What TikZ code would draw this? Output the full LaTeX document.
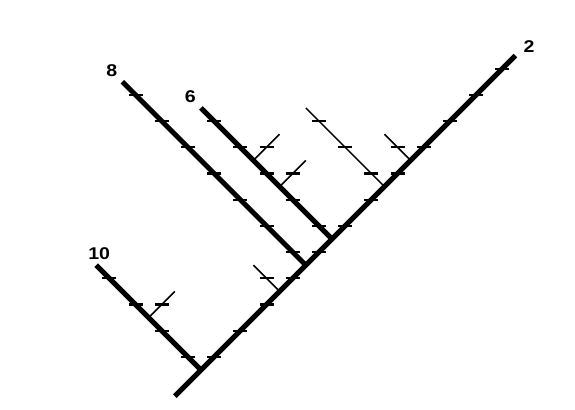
\documentclass[tikz,border=0pt]{standalone}
\usepackage{fontspec}
\setsansfont{Liberation Sans}[FakeStretch=1.15]
\usetikzlibrary{calc}

\begin{document}
\begin{tikzpicture}[x=26.2pt,y=26.2pt,
  stem/.style={line width=5pt},
  twig/.style={line width=1.5pt},
  tickmark/.style={line width=2.2pt},
  lbl/.style={font=\sffamily\bfseries\fontsize{17}{17}\selectfont,inner sep=0pt}]
  \useasboundingbox (-7.672,-1.527) rectangle (14.275,14.122);
  \coordinate (root) at (-1,-1);
  \coordinate (j0) at (0,0);
  \coordinate (top2) at (12,12);
  \coordinate (top10) at (-4,4);
  \coordinate (s10) at (-2,2);
  \coordinate (e10) at (-1,3);
  \coordinate (j3) at (3,3);
  \coordinate (e3) at (2,4);
  \coordinate (j8) at (4,4);
  \coordinate (top8) at (-3,11);
  \coordinate (j6) at (5,5);
  \coordinate (top6) at (0,10);
  \coordinate (s6a) at (3,7);
  \coordinate (e6a) at (4,8);
  \coordinate (s6b) at (2,8);
  \coordinate (e6b) at (3,9);
  \coordinate (j7) at (7,7);
  \coordinate (e7) at (4,10);
  \coordinate (j9) at (8,8);
  \coordinate (e9) at (7,9);
  \draw[stem] (root) -- (top2);
  \draw[stem] (j0) -- (top10);
  \draw[stem] (j8) -- (top8);
  \draw[stem] (j6) -- (top6);
  \draw[twig] (s10) -- (e10);
  \draw[twig] (j3) -- (e3);
  \draw[twig] (s6a) -- (e6a);
  \draw[twig] (s6b) -- (e6b);
  \draw[twig] (j7) -- (e7);
  \draw[twig] (j9) -- (e9);
  \foreach \a/\b/\n in {j0/top2/12,j0/top10/4,s10/e10/1,j3/e3/1,j8/top8/7,
      j6/top6/5,s6a/e6a/1,s6b/e6b/1,j7/e7/3,j9/e9/1}
    \foreach \k in {1,...,\n}
      \draw[tickmark] ($(\a)!{(\k-0.5)/\n}!(\b)$) +(-7pt,0) -- +(7pt,0);
  \node[lbl,anchor=south west] (n2) at ($(top2)+(8pt,3pt)$) {2};
  \node[lbl,anchor=south east] (n8) at ($(top8)+(-5pt,5pt)$) {8};
  \node[lbl,anchor=south east] (n6) at ($(top6)+(-5pt,5pt)$) {6};
  \node[lbl,anchor=south] (n10) at ($(top10)+(3pt,5pt)$) {10};
\end{tikzpicture}
\end{document}
